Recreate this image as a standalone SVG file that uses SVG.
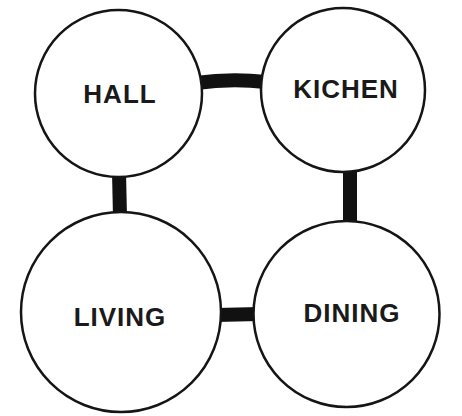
<svg xmlns="http://www.w3.org/2000/svg" width="462" height="416" viewBox="0 0 462 416">
<style>
.room{fill:#fff;stroke:#151515;stroke-width:2.5}
.lbl{font-family:"Liberation Sans",Arial,sans-serif;font-weight:bold;font-size:26px;fill:#1a1a1a;text-anchor:middle;letter-spacing:1px}
.link{fill:none;stroke:#111;stroke-width:14}
</style>
<rect width="462" height="416" fill="#fff"/>
<g id="connectors">
<path class="link" d="M196 83 Q231 78 266 82"/>
<path class="link" d="M119 172 L120 217"/>
<path class="link" d="M350 168 L350 222"/>
<path class="link" d="M216 315 L259 314" stroke-width="17"/>
</g>
<g id="hall"><circle class="room" cx="118.5" cy="93.5" r="83.5"/><text class="lbl" x="120" y="103">HALL</text></g>
<g id="kichen"><circle class="room" cx="343" cy="90" r="82"/><text class="lbl" x="346" y="98">KICHEN</text></g>
<g id="living"><circle class="room" cx="121" cy="312" r="100"/><text class="lbl" x="120" y="326">LIVING</text></g>
<g id="dining"><circle class="room" cx="346.5" cy="314" r="93"/><text class="lbl" x="352" y="322">DINING</text></g>
</svg>
